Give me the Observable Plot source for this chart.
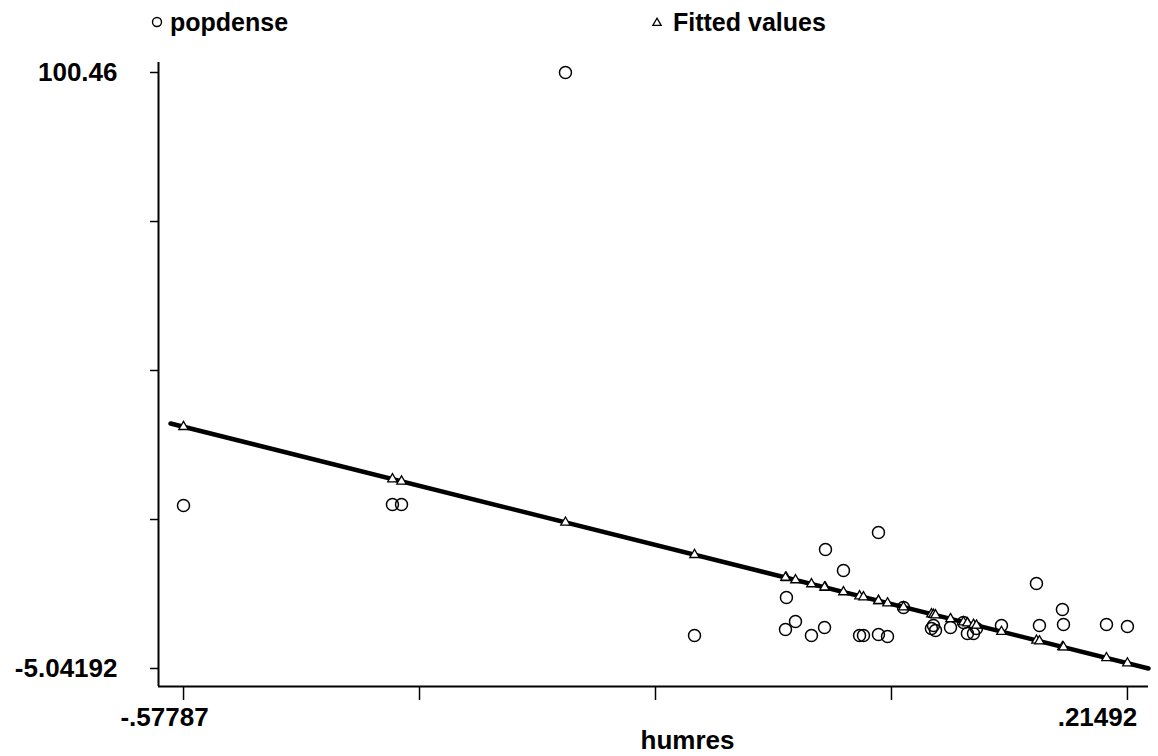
<!DOCTYPE html>
<html>
<head>
<meta charset="utf-8">
<script src="https://cdn.jsdelivr.net/npm/d3@7"></script>
<script src="https://cdn.jsdelivr.net/npm/@observablehq/plot@0.6"></script>
<style>
  html, body { margin: 0; padding: 0; background: #fff; }
  #legend { display: block; }
  #chart svg { display: block; }
</style>
</head>
<body>
<svg id="legend" width="1158" height="48" font-family="'Liberation Sans', Arial, sans-serif" font-weight="bold" font-size="25"></svg>
<div id="chart"></div>
<script>
// humres (x) for each observation
const humres = [
  -0.5779, -0.4024, -0.3948, -0.2571, -0.1487, -0.0715, -0.0723, -0.0639,
  -0.0505, -0.0387, -0.0395, -0.0236, -0.0101, -0.0068, 0.0058, 0.0058,
  0.0134, 0.0268, 0.0503, 0.0520, 0.0537, 0.0663, 0.0772, 0.0805,
  0.0856, 0.0881, 0.1091, 0.1385, 0.1410, 0.1603, 0.1612, 0.1973, 0.2149
];
// popdense (circles)
const popdense = [
  23.81, 23.99, 23.99, 100.46, 0.80, 7.53, 1.86, 3.28,
  0.80, 16.02, 2.22, 12.31, 0.80, 0.80, 19.03, 0.98,
  0.62, 5.76, 2.04, 2.57, 1.69, 2.22, 3.10, 1.15,
  1.15, 2.04, 2.57, 10.00, 2.57, 5.40, 2.75, 2.75, 2.39
];
// Fitted values (triangles)
const fittedValues = [
  37.75, 28.49, 28.09, 20.82, 15.09, 11.02, 11.06, 10.62,
  9.91, 9.28, 9.33, 8.49, 7.77, 7.60, 6.94, 6.94,
  6.53, 5.83, 4.59, 4.50, 4.41, 3.74, 3.17, 2.99,
  2.72, 2.59, 1.48, -0.07, -0.20, -1.22, -1.27, -3.18, -4.11
];
// Fitted line as drawn (end points)
const fitLineX = [-0.5888, 0.2326];
const fitLineY = [38.33, -5.04];

// Axis ticks and labels
const xTicks = [-0.57787, -0.37967, -0.18147, 0.01673, 0.21492];
const xTickLabels = ["-.57787", "", "", "", ".21492"];
const yTicks = [-5.04192, 21.33, 47.71, 74.08, 100.46];
const yTickLabels = ["-5.04192", "", "", "", "100.46"];
const xDomain = [-0.5989, 0.2326];
const yDomain = [-8.23, 102.23];
const xTitle = "humres";
const seriesNames = ["popdense", "Fitted values"];

const obs = humres.map((x, i) => ({x, pop: popdense[i], fit: fittedValues[i]}));
const fitLine = fitLineX.map((x, i) => ({x, y: fitLineY[i]}));

// Legend
const lg = d3.select("#legend");
lg.append("circle").attr("cx", 157).attr("cy", 22).attr("r", 4.5)
  .attr("fill", "none").attr("stroke", "#000").attr("stroke-width", 1.4);
lg.append("text").attr("x", 170).attr("y", 31).text(seriesNames[0]);
lg.append("path").attr("d", d3.symbol(d3.symbolTriangle2, 50)())
  .attr("transform", "translate(657,23)")
  .attr("fill", "none").attr("stroke", "#000").attr("stroke-width", 1.3);
lg.append("text").attr("x", 673).attr("y", 31).text(seriesNames[1]);

const fontFam = "'Liberation Sans', Arial, sans-serif";
const labelStyle = {fontSize: 26, fontWeight: "bold", fill: "#000"};

const chart = Plot.plot({
  width: 1158,
  height: 708,
  marginLeft: 158,
  marginRight: 10,
  marginTop: 14,
  marginBottom: 70,
  style: {fontFamily: fontFam, background: "#fff", color: "#000", overflow: "visible"},
  x: {domain: xDomain},
  y: {domain: yDomain},
  marks: [
    // axis lines
    Plot.ruleX([xDomain[0]], {stroke: "#000", strokeWidth: 2}),
    Plot.ruleY([yDomain[0]], {stroke: "#000", strokeWidth: 2}),
    // y axis ticks + end labels
    Plot.axisY({
      ticks: yTicks, tickSize: 8, tickPadding: 33, strokeWidth: 1.5,
      tickFormat: (d, i) => yTickLabels[i], label: null,
      fontSize: 26, fontWeight: "bold"
    }),
    // x axis ticks
    Plot.axisX({
      ticks: xTicks, tickSize: 14, strokeWidth: 1.5,
      tickFormat: () => "", label: null
    }),
    // x axis end labels
    Plot.text([xTicks[0]], {x: d => d, text: [xTickLabels[0]], frameAnchor: "bottom",
      dy: 31, dx: -19, lineAnchor: "middle", ...labelStyle}),
    Plot.text([xTicks[4]], {x: d => d, text: [xTickLabels[4]], frameAnchor: "bottom",
      dy: 31, dx: -30, lineAnchor: "middle", ...labelStyle}),
    // x title
    Plot.text([xTitle], {frameAnchor: "bottom", dy: 54, dx: 34, lineAnchor: "middle", ...labelStyle}),
    // popdense circles
    Plot.dot(obs, {x: "x", y: "pop", r: 6, fill: "none", stroke: "#000", strokeWidth: 1.5}),
    // fitted line
    Plot.line(fitLine, {x: "x", y: "y", stroke: "#000", strokeWidth: 4.5}),
    // fitted triangles
    Plot.dot(obs, {x: "x", y: "fit", symbol: "triangle2", r: 4.5, fill: "#fff", stroke: "#000", strokeWidth: 1.3})
  ]
});
document.getElementById("chart").appendChild(chart);
</script>
</body>
</html>
